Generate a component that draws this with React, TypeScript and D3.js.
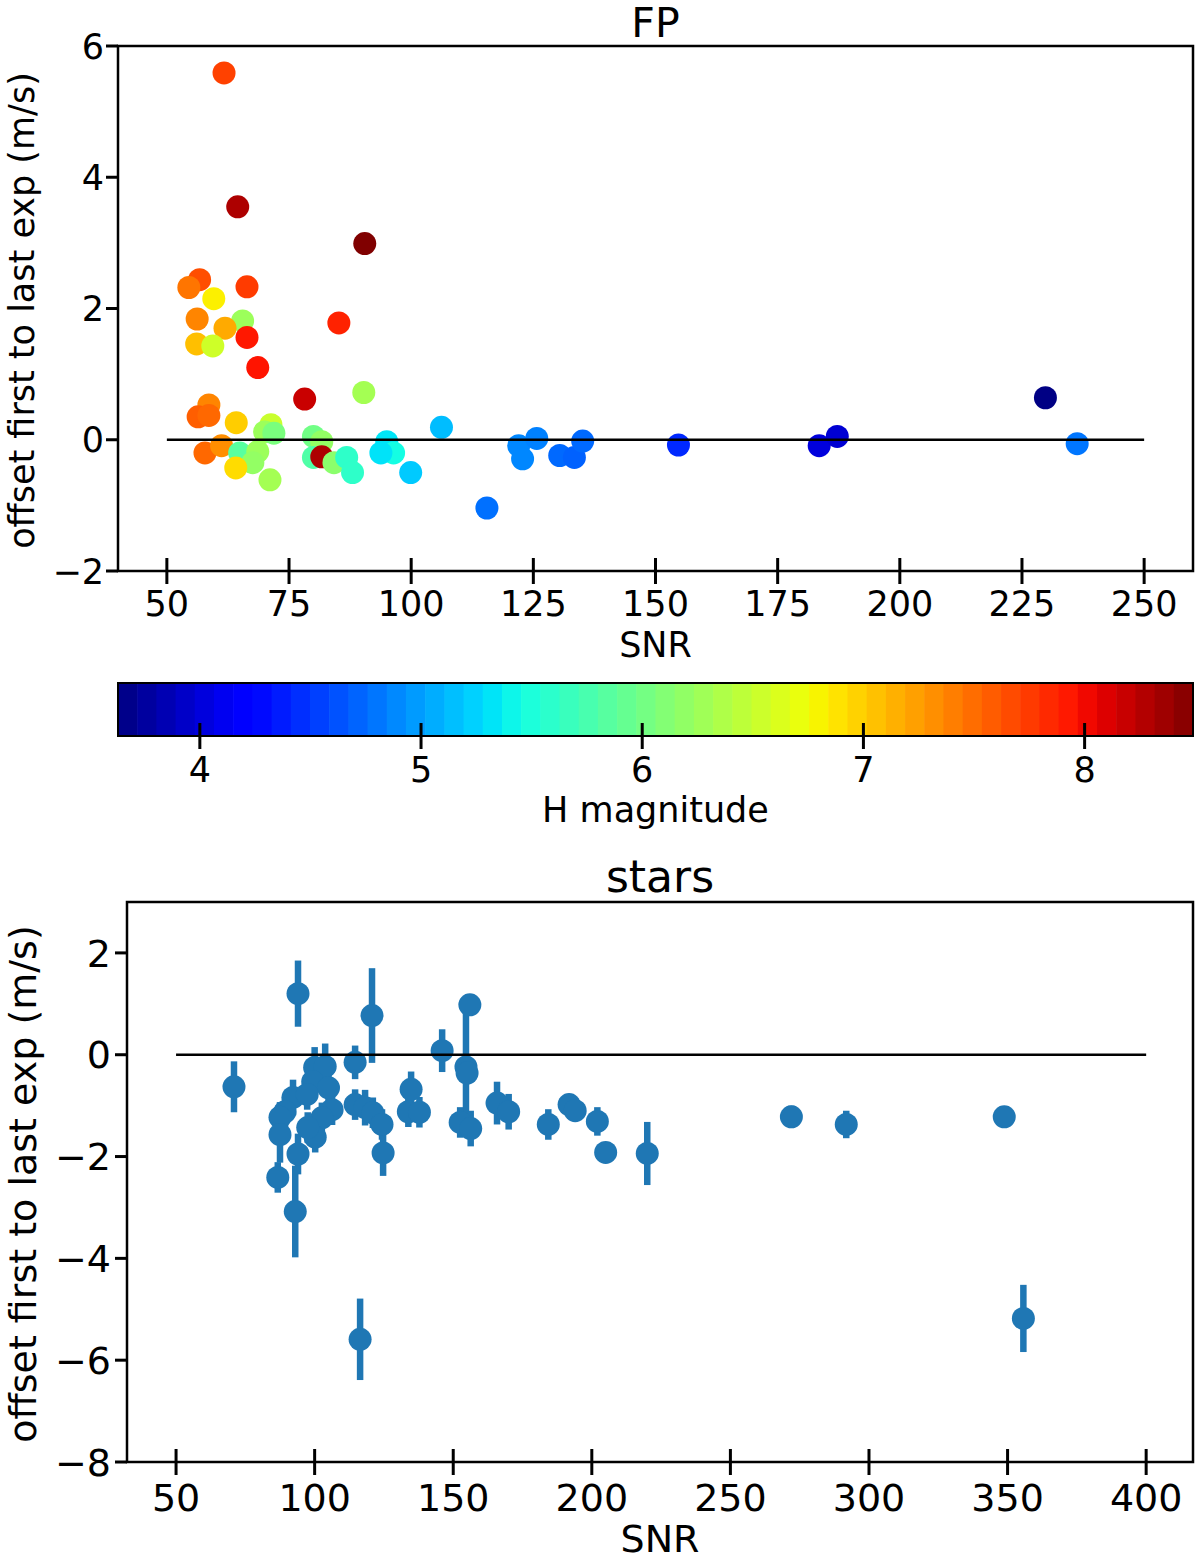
import React from "react";
import * as d3 from "d3";

// ---------- FP panel data ----------
const fpSnr = [61.7, 64.5, 90.5, 56.7, 54.5, 66.4, 59.6, 56.2, 65.5, 61.9, 66.4, 56.1, 59.4, 68.6, 85.2, 78.2, 90.3, 106.2, 58.6, 56.4, 58.6, 64.2, 71.3, 70.0, 71.9, 80.0, 81.7, 57.8, 61.2, 64.9, 68.6, 67.6, 64.1, 71.1, 80.0, 81.7, 84.2, 86.8, 88.0, 95.0, 96.4, 93.8, 99.9, 115.5, 122.0, 125.7, 122.8, 130.4, 133.4, 135.1, 154.7, 183.5, 187.2, 229.8, 236.3];
const fpOffset = [5.59, 3.55, 2.99, 2.44, 2.32, 2.33, 2.15, 1.84, 1.81, 1.70, 1.56, 1.46, 1.43, 1.10, 1.78, 0.62, 0.72, 0.19, 0.53, 0.35, 0.37, 0.26, 0.23, 0.12, 0.10, 0.05, -0.03, -0.20, -0.09, -0.20, -0.18, -0.35, -0.43, -0.61, -0.27, -0.26, -0.35, -0.27, -0.50, -0.03, -0.20, -0.20, -0.50, -1.04, -0.09, 0.02, -0.29, -0.24, -0.27, -0.02, -0.08, -0.09, 0.05, 0.64, -0.06];
const fpHmag = [7.72, 8.3, 8.49, 7.65, 7.45, 7.75, 6.82, 7.37, 6.25, 7.18, 7.93, 7.07, 6.55, 7.95, 7.88, 8.18, 6.3, 5.14, 7.37, 7.57, 7.52, 7.0, 6.52, 6.25, 6.05, 6.0, 6.2, 7.52, 7.32, 5.85, 6.25, 6.2, 6.92, 6.3, 5.8, 8.3, 6.15, 5.6, 5.6, 5.33, 5.45, 5.32, 5.2, 4.77, 4.88, 4.85, 4.88, 4.74, 4.7, 4.74, 4.43, 4.02, 3.98, 3.65, 4.8];
const fpXTicks = [50, 75, 100, 125, 150, 175, 200, 225, 250];
const fpYTicks = [-2, 0, 2, 4, 6];
const cbTicks = [4, 5, 6, 7, 8];
const cbDomain = [3.63, 8.49];
const cbBands = 56;

// ---------- stars panel data ----------
const starSnr = [70.9, 94, 120.7, 114.6, 146, 156, 154.6, 155.0, 152.5, 156.3, 134.8, 133.8, 137.8, 165.8, 170, 184.3, 191.8, 194, 202, 205, 220, 272, 291.8, 348.8, 355.7, 116.4, 93, 86.7, 94, 100, 103.8, 99.3, 105, 92.2, 97.3, 89.3, 87.5, 106.3, 102.6, 100.2, 87.5, 97.5, 114.6, 118.2, 121, 124.3, 124.7];
const starOffset = [-0.63, 1.2, 0.77, -0.15, 0.08, 0.98, -0.24, -0.36, -1.33, -1.45, -0.68, -1.12, -1.13, -0.95, -1.12, -1.37, -0.98, -1.1, -1.31, -1.92, -1.94, -1.22, -1.37, -1.22, -5.18, -5.59, -3.08, -2.41, -1.95, -0.25, -0.23, -0.53, -0.65, -0.84, -0.78, -1.12, -1.23, -1.08, -1.24, -1.62, -1.57, -1.43, -0.98, -1.04, -1.14, -1.37, -1.93];
const starErr = [0.5, 0.65, 0.93, 0.33, 0.42, 0.2, 1.3, 0.2, 0.3, 0.35, 0.35, 0.3, 0.3, 0.42, 0.35, 0.3, 0.15, 0.15, 0.28, 0.15, 0.62, 0.22, 0.27, 0.15, 0.66, 0.8, 0.9, 0.3, 0.4, 0.4, 0.45, 0.3, 0.3, 0.35, 0.3, 0.3, 0.3, 0.3, 0.3, 0.3, 0.55, 0.3, 0.3, 0.35, 0.3, 0.3, 0.45];
const stXTicks = [50, 100, 150, 200, 250, 300, 350, 400];
const stYTicks = [-8, -6, -4, -2, 0, 2];

// ---------- jet colormap ----------
const jetR = d3.scaleLinear().domain([0, 0.35, 0.66, 0.89, 1]).range([0, 0, 1, 1, 0.5]).clamp(true);
const jetG = d3.scaleLinear().domain([0, 0.125, 0.375, 0.64, 0.91, 1]).range([0, 0, 1, 1, 0, 0]).clamp(true);
const jetB = d3.scaleLinear().domain([0, 0.11, 0.34, 0.65, 1]).range([0.5, 1, 1, 0, 0]).clamp(true);
const jet = (t: number) => d3.rgb(jetR(t) * 255, jetG(t) * 255, jetB(t) * 255).formatHex();

const FONT = "DejaVu Sans, Verdana, sans-serif";
const fmt = (v: number) => (v < 0 ? "\u2212" + Math.abs(v) : String(v));

export default function App() {
  // top panel geometry
  const tL = 118, tR = 1193, tT = 46, tB = 571;
  const xT = d3.scaleLinear().domain([40, 260]).range([tL, tR]);
  const yT = d3.scaleLinear().domain([-2, 6]).range([tB, tT]);
  const cNorm = d3.scaleLinear().domain(cbDomain).range([0, 1]).clamp(true);

  // colorbar
  const cbT = 683, cbBt = 736;
  const xC = d3.scaleLinear().domain(cbDomain).range([tL, tR]);
  const bands = d3.range(cbBands).map((i) => {
    const v0 = cbDomain[0] + ((cbDomain[1] - cbDomain[0]) * i) / cbBands;
    const v1 = cbDomain[0] + ((cbDomain[1] - cbDomain[0]) * (i + 1)) / cbBands;
    return { v0, v1, c: jet((i + 0.5) / cbBands) };
  });

  // bottom panel geometry
  const bL = 127, bR = 1193, bT = 902, bB = 1462;
  const xB = d3.scaleLinear().domain([32.3, 416.9]).range([bL, bR]);
  const yB = d3.scaleLinear().domain([-8, 3]).range([bB, bT]);
  const blue = "#1f77b4";

  const fs1 = 35, fs2 = 38;

  return (
    <svg width={1200} height={1560} style={{ position: "absolute", left: 0, top: 0, background: "#fff" }} fontFamily={FONT}>
      <rect x={0} y={0} width={1200} height={1560} fill="#fff" />
      {/* ===== FP panel ===== */}
      <text x={(tL + tR) / 2} y={37} fontSize={41} textAnchor="middle">FP</text>
      <g>
        {fpSnr.map((s, i) => (
          <circle key={i} cx={xT(s)} cy={yT(fpOffset[i])} r={11.5} fill={jet(cNorm(fpHmag[i]))} />
        ))}
      </g>
      <line x1={xT(50)} x2={xT(250)} y1={yT(0)} y2={yT(0)} stroke="#000" strokeWidth={2.5} />
      <rect x={tL} y={tT} width={tR - tL} height={tB - tT} fill="none" stroke="#000" strokeWidth={2.5} />
      {fpXTicks.map((t) => (
        <g key={t}>
          <line x1={xT(t)} x2={xT(t)} y1={tB - 13} y2={tB + 13} stroke="#000" strokeWidth={3} />
          <text x={xT(t)} y={616} fontSize={fs1} textAnchor="middle">{t}</text>
        </g>
      ))}
      {fpYTicks.map((t) => (
        <g key={t}>
          <line x1={tL - 12} x2={tL} y1={yT(t)} y2={yT(t)} stroke="#000" strokeWidth={3} />
          <text x={104} y={yT(t)} dy="0.36em" fontSize={fs1} textAnchor="end">{fmt(t)}</text>
        </g>
      ))}
      <text x={(tL + tR) / 2} y={657} fontSize={fs1} textAnchor="middle">SNR</text>
      <text transform={`translate(34,${(tT + tB) / 2 + 2}) rotate(-90)`} fontSize={fs1} textAnchor="middle">offset first to last exp (m/s)</text>

      {/* ===== colorbar ===== */}
      {bands.map((b, i) => (
        <rect key={i} x={xC(b.v0)} y={cbT} width={xC(b.v1) - xC(b.v0) + 0.6} height={cbBt - cbT} fill={b.c} />
      ))}
      <rect x={tL} y={cbT} width={tR - tL} height={cbBt - cbT} fill="none" stroke="#000" strokeWidth={2} />
      {cbTicks.map((t) => (
        <g key={t}>
          <line x1={xC(t)} x2={xC(t)} y1={cbBt - 13} y2={cbBt + 13} stroke="#000" strokeWidth={3} />
          <text x={xC(t)} y={782} fontSize={fs1} textAnchor="middle">{t}</text>
        </g>
      ))}
      <text x={(tL + tR) / 2} y={822} fontSize={fs1} textAnchor="middle">H magnitude</text>

      {/* ===== stars panel ===== */}
      <text x={(bL + bR) / 2} y={892} fontSize={44} textAnchor="middle">stars</text>
      <g>
        {starSnr.map((s, i) => (
          <line key={"e" + i} x1={xB(s)} x2={xB(s)} y1={yB(starOffset[i] - starErr[i])} y2={yB(starOffset[i] + starErr[i])} stroke={blue} strokeWidth={6.5} />
        ))}
        {starSnr.map((s, i) => (
          <circle key={"p" + i} cx={xB(s)} cy={yB(starOffset[i])} r={11.5} fill={blue} />
        ))}
      </g>
      <line x1={xB(50)} x2={xB(400)} y1={yB(0)} y2={yB(0)} stroke="#000" strokeWidth={2.5} />
      <rect x={bL} y={bT} width={bR - bL} height={bB - bT} fill="none" stroke="#000" strokeWidth={2.5} />
      {stXTicks.map((t) => (
        <g key={t}>
          <line x1={xB(t)} x2={xB(t)} y1={bB - 13} y2={bB + 13} stroke="#000" strokeWidth={3} />
          <text x={xB(t)} y={1511} fontSize={fs2} textAnchor="middle">{t}</text>
        </g>
      ))}
      {stYTicks.map((t) => (
        <g key={t}>
          <line x1={bL - 12} x2={bL} y1={yB(t)} y2={yB(t)} stroke="#000" strokeWidth={3} />
          <text x={111} y={yB(t)} dy="0.36em" fontSize={fs2} textAnchor="end">{fmt(t)}</text>
        </g>
      ))}
      <text x={(bL + bR) / 2} y={1552} fontSize={fs2} textAnchor="middle">SNR</text>
      <text transform={`translate(36,${(bT + bB) / 2 + 2}) rotate(-90)`} fontSize={fs2} textAnchor="middle">offset first to last exp (m/s)</text>
    </svg>
  );
}
